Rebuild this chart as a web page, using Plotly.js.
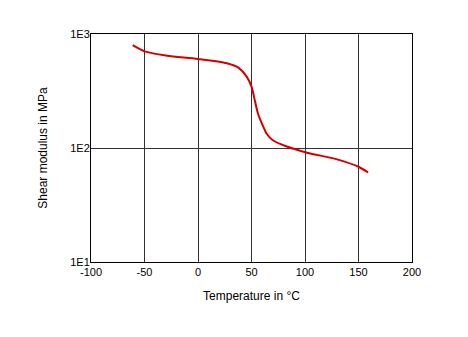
<!DOCTYPE html>
<html>
<head>
<meta charset="utf-8">
<script src="https://cdn.plot.ly/plotly-3.0.1.min.js"></script>
<style>html,body{margin:0;padding:0;background:#fff;}#chart{width:468px;height:337px;}</style>
</head>
<body>
<div id="chart"></div>
<script>
var temperature = [-61, -49, -29, 0, 27, 38, 45.5, 50, 53, 56, 61, 64, 70, 83, 102, 130, 150, 159];
var shearModulus = [800, 700, 645, 604, 553, 505, 423, 345, 264, 201, 154, 134, 117, 103, 91, 79.5, 68.5, 61];
var xTicks = [-100, -50, 0, 50, 100, 150, 200];
var xTickText = ["-100", "-50", "0", "50", "100", "150", "200"];
var yTickVals = [10, 100, 1000];
var yTickText = ["1E1", "1E2", "1E3"];

var trace = {
  x: temperature,
  y: shearModulus,
  type: 'scatter',
  mode: 'lines',
  line: {color: '#d40000', width: 2, shape: 'spline', smoothing: 0.8},
  hoverinfo: 'none'
};

var layout = {
  width: 468, height: 337,
  margin: {l: 91, r: 56, t: 34, b: 75},
  paper_bgcolor: '#fff', plot_bgcolor: '#fff',
  showlegend: false,
  font: {family: 'Liberation Sans, Arial, sans-serif', size: 11, color: '#000'},
  xaxis: {
    range: [-100, 200],
    tickvals: xTicks, ticktext: xTickText,
    ticks: '', showgrid: true, gridcolor: '#333', gridwidth: 1,
    showline: true, linecolor: '#000', linewidth: 1, mirror: true,
    zeroline: false,
    ticklabelstandoff: 0,
    title: {text: 'Temperature in °C', font: {size: 12}, standoff: 14}
  },
  yaxis: {
    type: 'log',
    range: [1, 3],
    tickvals: yTickVals, ticktext: yTickText,
    ticks: '', showgrid: true, gridcolor: '#333', gridwidth: 1,
    showline: true, linecolor: '#000', linewidth: 1, mirror: true,
    zeroline: false,
    ticklabelstandoff: -2,
    title: {text: 'Shear modulus in MPa', font: {size: 12}, standoff: 20}
  }
};

Plotly.newPlot('chart', [trace], layout, {staticPlot: true, displayModeBar: false});
</script>
</body>
</html>
